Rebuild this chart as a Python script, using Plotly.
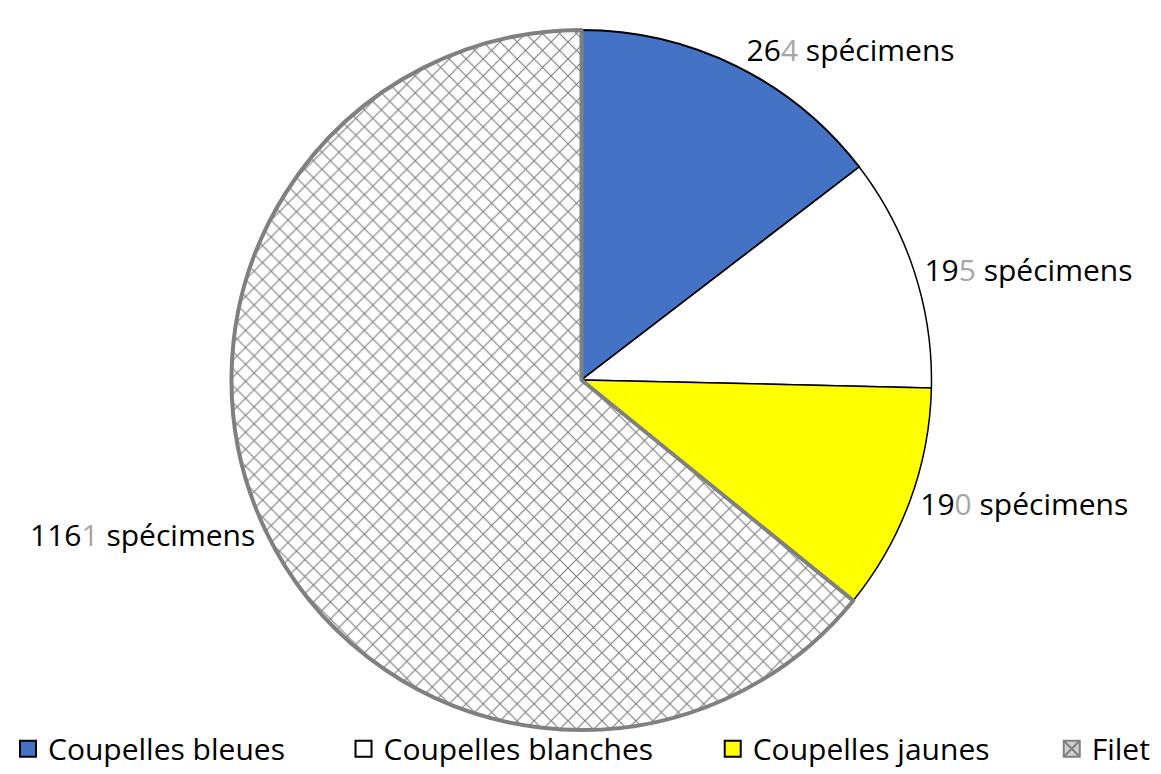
import plotly.graph_objects as go

# Data
categories = ["Coupelles bleues", "Coupelles blanches", "Coupelles jaunes", "Filet"]
values = [264, 195, 190, 1161]
colors = ["#4472C4", "#FFFFFF", "#FFFF00", "#FFFFFF"]

# last digit shows up light grey in the original labels
texts = [
    f"{str(v)[:-1]}<span style='color:#A6A6A6'>{str(v)[-1]}</span> spécimens"
    for v in values
]

fig = go.Figure()

fig.add_trace(go.Pie(
    labels=categories,
    values=values,
    text=texts,
    texttemplate="%{text}",
    textinfo="text",
    textposition="outside",
    hoverinfo="label+value",
    sort=False,
    direction="clockwise",
    rotation=0,
    marker=dict(
        colors=colors,
        line=dict(color=["#000000", "#000000", "#000000", "#808080"], width=[2, 1.5, 1.5, 4]),
        pattern=dict(shape=["", "", "", "x"], fgcolor="#7F7F7F", bgcolor="#FFFFFF", size=12, solidity=0.18),
    ),
    outsidetextfont=dict(family="Open Sans", size=30, color="#000000"),
    showlegend=False,
))

# legend entries, one legend per item so they sit where the original has them
legend_names = ["legend", "legend2", "legend3", "legend4"]
legend_x = [0.0, 0.289, 0.607, 0.899]
sym_fill = ["#4472C4", "#FFFFFF", "#FFFF00", "#D0D0D0"]
sym_line = ["#000000", "#000000", "#000000", "#808080"]
sym_shape = ["square", "square", "square", "square-x"]

for i, cat in enumerate(categories):
    fig.add_trace(go.Scatter(
        x=[None], y=[None],
        mode="markers",
        name=cat,
        legend=legend_names[i],
        marker=dict(symbol=sym_shape[i], size=16, color=sym_fill[i],
                    line=dict(color=sym_line[i], width=2)),
        hoverinfo="skip",
    ))

legend_font = dict(family="Open Sans", size=30, color="#000000")
layout_legends = {}
for i, name in enumerate(legend_names):
    layout_legends[name] = dict(
        xref="container", yref="container",
        x=legend_x[i], y=0.043,
        xanchor="left", yanchor="middle",
        orientation="h",
        font=legend_font,
        bgcolor="rgba(0,0,0,0)",
        itemclick=False,
    )

# page body adds ~8px offset, so the plot area is nudged up/left
fig.update_layout(
    width=1161,
    height=774,
    margin=dict(l=0, r=14, t=22, b=52, autoexpand=False),
    paper_bgcolor="white",
    plot_bgcolor="white",
    font=dict(family="Open Sans", color="#000000"),
    xaxis=dict(visible=False),
    yaxis=dict(visible=False),
    **layout_legends,
)

fig.write_html("out.html")
